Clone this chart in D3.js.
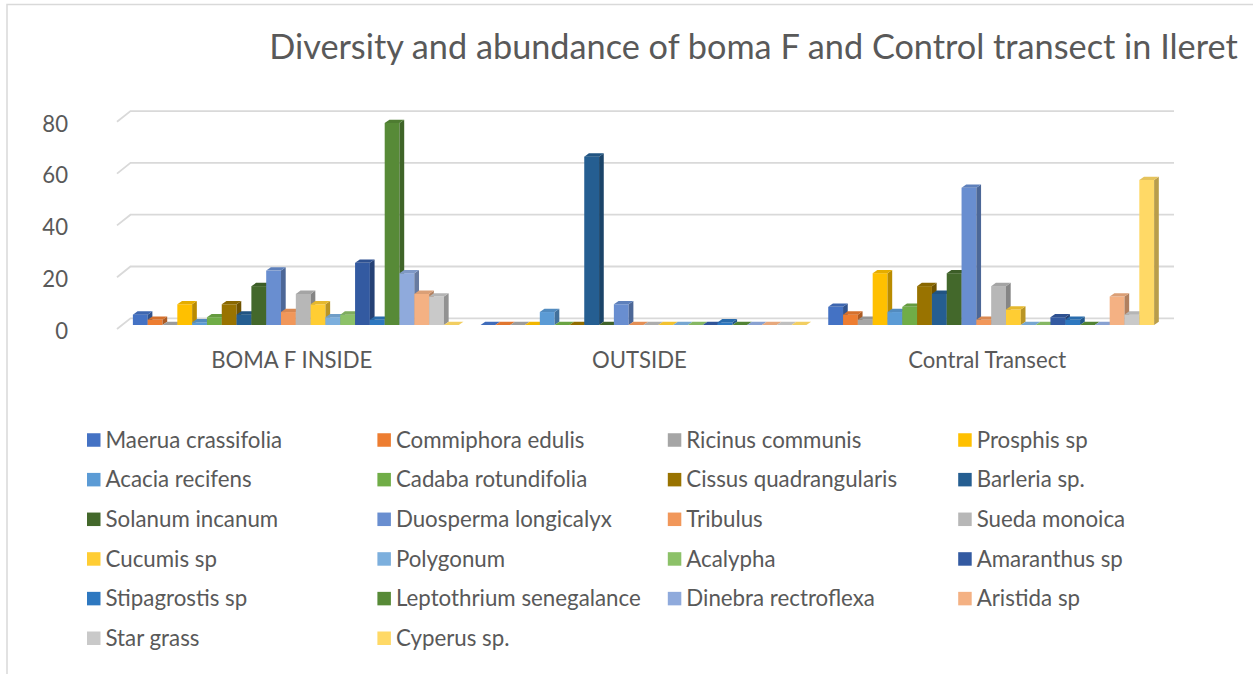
<!DOCTYPE html>
<html>
<head>
<meta charset="utf-8">
<script src="https://cdn.jsdelivr.net/npm/d3@7/dist/d3.min.js"></script>
<style>
  html, body { margin: 0; padding: 0; background: #ffffff; }
  svg { display: block; font-family: Lato, "Open Sans", "Noto Sans", sans-serif; }
</style>
</head>
<body>
<svg id="chart" width="1253" height="674"></svg>
<script>
// Sites along the x axis
const categories = ["BOMA F INSIDE", "OUTSIDE", "Contral Transect"];

// Species (series), in legend order
const species = [
  "Maerua crassifolia", "Commiphora edulis", "Ricinus communis", "Prosphis sp",
  "Acacia recifens", "Cadaba rotundifolia", "Cissus quadrangularis", "Barleria sp.",
  "Solanum incanum", "Duosperma longicalyx", "Tribulus", "Sueda monoica",
  "Cucumis sp", "Polygonum", "Acalypha", "Amaranthus sp",
  "Stipagrostis sp", "Leptothrium senegalance", "Dinebra rectroflexa", "Aristida sp",
  "Star grass", "Cyperus sp."
];

// Counts per species, one array per site (same order as species)
const bomaInside = [4, 2, 0, 8, 1, 3, 8, 4, 15, 21, 5, 12, 8, 3, 4, 24, 2, 78, 20, 12, 11, 0];
const outside    = [0, 0, 0, 0, 5, 0, 0, 65, 0, 8, 0, 0, 0, 0, 0, 0, 1, 0, 0, 0, 0, 0];
const control    = [7, 4, 2, 20, 5, 7, 15, 12, 20, 53, 2, 15, 6, 0, 0, 3, 2, 0, 0, 11, 4, 56];

const seriesColors = [
  "#4472C4", "#ED7D31", "#A5A5A5", "#FFC000",
  "#5B9BD5", "#70AD47", "#997300", "#255E91",
  "#43682B", "#698ED0", "#F1975A", "#B7B7B7",
  "#FFCD33", "#7CAFDD", "#8CC168", "#335AA1",
  "#2E78C0", "#578A37", "#8FAADC", "#F4B183",
  "#C9C9C9", "#FFD966"
];

const yTicks = [0, 20, 40, 60, 80];
const titleText = "Diversity and abundance of boma F and Control transect in Ileret";

const values = [bomaInside, outside, control];

const svg = d3.select("#chart");
const W = 1253, H = 674;
const textColor = "#595959";
const gridColor = "#D9D9D9";

svg.append("rect").attr("width", W).attr("height", H).attr("fill", "#fff");
// chart area frame
svg.append("rect")
  .attr("x", 7).attr("y", 4.5).attr("width", W + 20).attr("height", H + 20)
  .attr("fill", "none").attr("stroke", gridColor).attr("stroke-width", 1.5);

// scale a text selection so its first node reaches the wanted width
function fitWidth(sel, target, base) {
  sel.attr("font-size", base);
  const w = sel.node().getComputedTextLength();
  const size = base * target / w;
  sel.attr("font-size", size);
  return size;
}

// ---- title
const title = svg.append("text")
  .attr("x", 753.5).attr("y", 59)
  .attr("text-anchor", "middle")
  .attr("fill", textColor)
  .text(titleText);
fitWidth(title, 969, 32);

// ---- scales
const x = d3.scaleBand().domain(categories).range([122, 1165]).paddingInner(0.0627).paddingOuter(0.0313);
const x1 = d3.scaleBand().domain(d3.range(species.length)).range([0, x.bandwidth()]).padding(0);
const y = d3.scaleLinear().domain([0, 80]).range([325, 117.8]);

// 3D projection offsets
const wallFront = { x: 117, dy: 4 };
const wallBack = { x: 130.5, dy: -6.7 };
const wallRight = 1174;
const barDx = 4.7, barDy = 3.3;

// ---- walls / gridlines
const grid = svg.append("g").attr("fill", "none").attr("stroke", gridColor).attr("stroke-width", 1.8);
yTicks.forEach(v => {
  grid.append("polyline")
    .attr("points", [
      [wallFront.x, y(v) + wallFront.dy],
      [wallBack.x, y(v) + wallBack.dy],
      [wallRight, y(v) + wallBack.dy]
    ].map(p => p.join(",")).join(" "));
});

// ---- y axis labels
const yLabels = svg.append("g").attr("fill", textColor).attr("text-anchor", "end");

// ---- category labels
const catLabels = svg.append("g").attr("fill", textColor).attr("text-anchor", "middle");
catLabels.selectAll("text").data(categories).join("text")
  .attr("x", d => x(d) + x.bandwidth() / 2 - 4)
  .attr("y", 368)
  .text(d => d);
const catSize = fitWidth(catLabels.selectAll("text").filter(d => d === "Contral Transect"), 158, 20);
catLabels.selectAll("text").attr("font-size", catSize);

yLabels.selectAll("text").data(yTicks).join("text")
  .attr("x", 68)
  .attr("y", d => y(d) + wallFront.dy + 2)
  .attr("dy", "0.35em")
  .attr("font-size", catSize)
  .text(d => d);

// ---- bars
const bars = svg.append("g");
categories.forEach((cat, ci) => {
  const g = bars.append("g");
  species.forEach((sp, si) => {
    const v = values[ci][si];
    const x0 = x(cat) + x1(si);
    const w = x1.bandwidth();
    const top = y(v), base = y(0);
    const c = d3.color(seriesColors[si]);
    const bar = g.append("g");
    if (v > 0) {
      bar.append("rect")
        .attr("x", x0).attr("y", top)
        .attr("width", w).attr("height", base - top)
        .attr("fill", c.formatHex());
      bar.append("polygon")
        .attr("points", [[x0 + w, top], [x0 + w + barDx, top - barDy], [x0 + w + barDx, base - barDy], [x0 + w, base]]
          .map(p => p.join(",")).join(" "))
        .attr("fill", c.darker(0.9).formatHex());
    }
    bar.append("polygon")
      .attr("points", [[x0, top], [x0 + barDx, top - barDy], [x0 + w + barDx, top - barDy], [x0 + w, top]]
        .map(p => p.join(",")).join(" "))
      .attr("fill", c.darker(v > 0 ? 0.3 : 0.15).formatHex());
  });
});

// ---- legend
const legend = svg.append("g");
const colW = 290.4, rowH = 39.65, lx = 87, ly = 440, sw = 13.5;
const items = legend.selectAll("g").data(species).join("g")
  .attr("transform", (d, i) => `translate(${lx + (i % 4) * colW},${ly + Math.floor(i / 4) * rowH})`);
items.append("rect")
  .attr("x", 0).attr("y", -sw / 2)
  .attr("width", sw).attr("height", sw)
  .attr("fill", (d, i) => seriesColors[i]);
const legendText = items.append("text")
  .attr("x", 18.5).attr("y", 0).attr("dy", "0.35em")
  .attr("fill", textColor)
  .text(d => d);
const legSize = fitWidth(legendText.filter(d => d === "Leptothrium senegalance"), 245, 20);
legendText.attr("font-size", legSize);
</script>
</body>
</html>
